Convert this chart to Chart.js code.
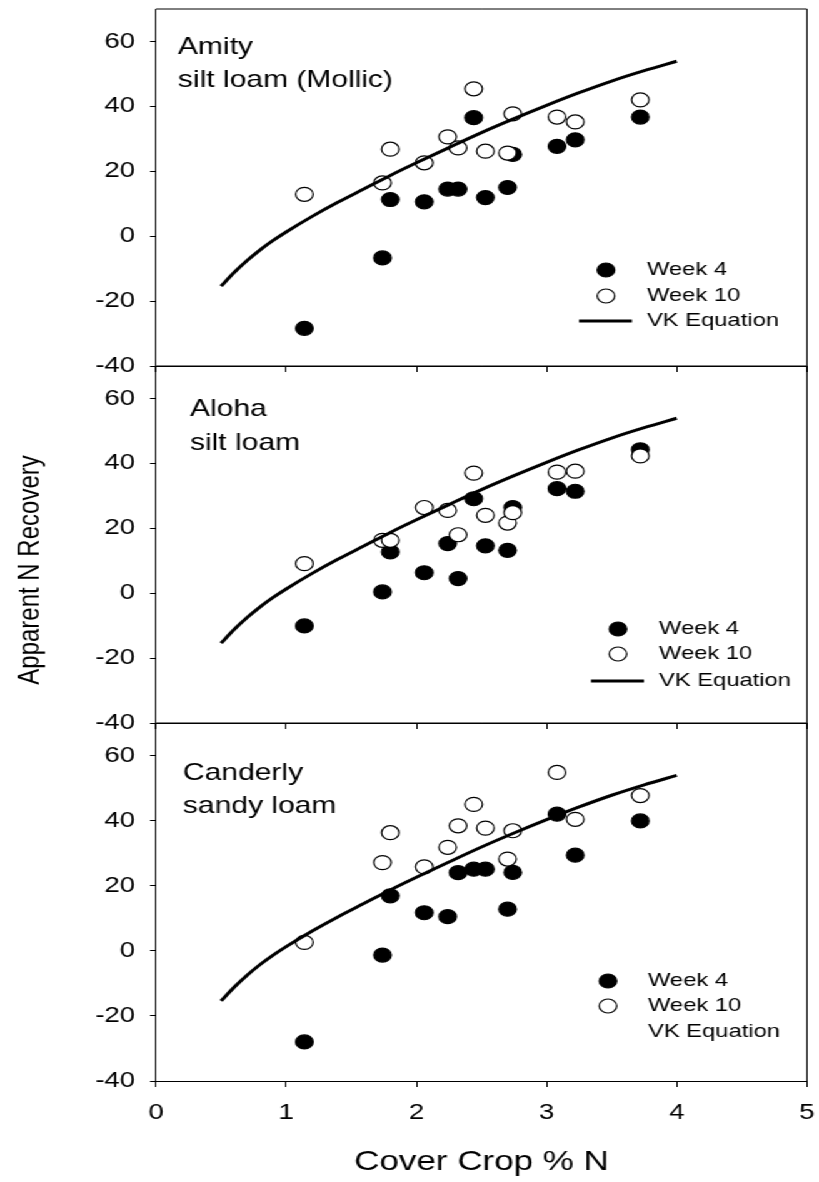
<!DOCTYPE html>
<html>
<head>
<meta charset="utf-8">
<script src="https://cdn.jsdelivr.net/npm/chart.js@4.4.1/dist/chart.umd.min.js"></script>
<style>
  html, body { margin: 0; padding: 0; background: #fff; width: 819px; height: 1182px; overflow: hidden; }
  #stage { position: absolute; left: 0; top: 0; width: 655px; height: 1182px; transform-origin: 0 0; }
  #stage canvas { position: absolute; left: 0; top: 0; }
</style>
</head>
<body>
<div id="stage">
  <canvas id="c1" width="655" height="1182"></canvas>
  <canvas id="c2" width="655" height="1182"></canvas>
  <canvas id="c3" width="655" height="1182"></canvas>
</div>
<script>
// ---------------- data ----------------
const cropN = [1.14, 1.74, 1.80, 2.06, 2.24, 2.32, 2.44, 2.53, 2.70, 2.74, 3.08, 3.22, 3.72];

const amityWeek4  = [-28.4, -6.7, 11.3, 10.6, 14.5, 14.5, 36.5, 11.9, 15.0, 25.2, 27.7, 29.7, 36.7];
const amityWeek10 = [ 12.9, 16.4, 26.8, 22.6, 30.6, 27.2, 45.4, 26.2, 25.6, 37.7, 36.7, 35.2, 42.0];

const alohaWeek4  = [-10.1,  0.4, 12.7,  6.3, 15.3,  4.5, 29.1, 14.6, 13.2, 26.4, 32.2, 31.4, 44.2];
const alohaWeek10 = [  9.1, 16.3, 16.3, 26.4, 25.5, 18.0, 37.0, 24.0, 21.6, 24.8, 37.3, 37.6, 42.3];

const canderlyWeek4  = [-28.0, -1.3, 16.9, 11.7, 10.5, 24.0, 25.1, 25.1, 12.8, 24.1, 42.0, 29.4, 39.9];
const canderlyWeek10 = [  2.6, 27.1, 36.3, 25.8, 31.8, 38.4, 45.0, 37.7, 28.2, 36.9, 54.8, 40.4, 47.7];

const vkN        = [0.5, 0.6, 0.7, 0.8, 0.9, 1.0, 1.2, 1.4, 1.6, 1.8, 2.0, 2.25, 2.5, 2.75, 3.0, 3.25, 3.5, 3.75, 4.0];
const vkRecovery = [-15.4, -11.2, -7.5, -4.2, -1.3, 1.3, 6.1, 10.5, 14.6, 18.7, 22.6, 27.3, 31.9, 36.2, 40.3, 44.2, 47.8, 51.0, 53.9];

const xTicks = [0, 1, 2, 3, 4, 5];
const yTicks = [-40, -20, 0, 20, 40, 60];

const seriesLabels = ["Week 4", "Week 10", "VK Equation"];
const panelNames = [["Amity", "silt loam (Mollic)"], ["Aloha", "silt loam"], ["Canderly", "sandy loam"]];
const xTitle = "Cover Crop % N";
const yTitle = "Apparent N Recovery";

// ---------------- layout (final image pixels) ----------------
const W = 819, H = 1182, CW = 655;
const S = W / CW;                 // horizontal stretch of the original figure
document.getElementById('stage').style.transform = `scaleX(${S})`;
const FONT = '"Liberation Sans", Arial, Helvetica, sans-serif';
const PLOT_L = 156, PLOT_R = 807;

const panels = [
  { top: 9,   bottom: 366,  w4: amityWeek4,    w10: amityWeek10,
    nameX: 178, nameY: [53.5, 86.5],
    lgMarkX: 606, lgTextX: 647, lgRows: [270, 296, 321], lgLine: [579, 632], yTitle: null },
  { top: 366, bottom: 723,  w4: alohaWeek4,    w10: alohaWeek10,
    nameX: 190, nameY: [415.7, 450],
    lgMarkX: 618, lgTextX: 659, lgRows: [629, 654, 681], lgLine: [591, 644],
    yTitle: { x: 30, y: 570 } },
  { top: 723, bottom: 1081, w4: canderlyWeek4, w10: canderlyWeek10,
    nameX: 183, nameY: [780, 813.3],
    lgMarkX: 608, lgTextX: 648, lgRows: [981, 1006, 1032], lgLine: null, yTitle: null }
];

const decor = {
  id: 'decor',
  afterDraw(chart, args, o) {
    const { ctx, chartArea: a } = chart;
    ctx.save();
    ctx.strokeStyle = '#000';
    ctx.lineWidth = 1;
    ctx.beginPath();
    ctx.moveTo(a.left, a.top); ctx.lineTo(a.right, a.top); ctx.lineTo(a.right, a.bottom);
    ctx.stroke();
    // panel name
    ctx.fillStyle = '#000';
    ctx.textAlign = 'left';
    ctx.textBaseline = 'alphabetic';
    ctx.font = `24px ${FONT}`;
    o.name.forEach((t, i) => ctx.fillText(t, o.nameX / S, o.nameY[i]));
    // legend
    ctx.font = `19px ${FONT}`;
    ctx.textBaseline = 'middle';
    const ds = chart.data.datasets;
    ds.forEach((d, i) => {
      const y = o.rows[i];
      if (d.showLine) {
        if (o.line) {
          ctx.strokeStyle = d.borderColor; ctx.lineWidth = d.borderWidth;
          ctx.beginPath(); ctx.moveTo(o.line[0] / S, y); ctx.lineTo(o.line[1] / S, y); ctx.stroke();
        }
      } else {
        ctx.beginPath();
        ctx.arc(o.markX / S, y, d.pointRadius, 0, Math.PI * 2);
        ctx.fillStyle = d.backgroundColor; ctx.fill();
        ctx.lineWidth = d.pointBorderWidth; ctx.strokeStyle = d.borderColor; ctx.stroke();
      }
      ctx.fillStyle = '#000';
      ctx.fillText(d.label, o.textX / S, y);
    });
    // shared y-axis title
    if (o.yTitle) {
      ctx.translate(o.yTitle.x / S, o.yTitle.y);
      ctx.rotate(-Math.PI / 2);
      ctx.textAlign = 'center';
      ctx.textBaseline = 'middle';
      ctx.font = `24px ${FONT}`;
      ctx.fillStyle = '#000';
      ctx.fillText(o.yTitle.text, 0, 0);
    }
    ctx.restore();
  }
};

panels.forEach((p, idx) => {
  const last = idx === panels.length - 1;
  const xAxisH = last ? (H - p.bottom) : 0;
  const pts = arr => cropN.map((x, i) => ({ x, y: arr[i] }));
  new Chart(document.getElementById('c' + (idx + 1)), {
    type: 'scatter',
    data: {
      datasets: [
        { label: seriesLabels[0], data: pts(p.w4), order: 2,
          pointRadius: 7, pointHoverRadius: 7, pointBorderWidth: 1.2,
          backgroundColor: '#000', borderColor: '#000' },
        { label: seriesLabels[1], data: pts(p.w10), order: 1,
          pointRadius: 7, pointHoverRadius: 7, pointBorderWidth: 1.2,
          backgroundColor: '#fff', borderColor: '#000' },
        { label: seriesLabels[2], data: vkN.map((x, i) => ({ x, y: vkRecovery[i] })), order: 0,
          showLine: true, pointRadius: 0, borderColor: '#000', borderWidth: 3,
          cubicInterpolationMode: 'monotone', backgroundColor: '#000' }
      ]
    },
    options: {
      responsive: false,
      animation: false,
      devicePixelRatio: 1,
      layout: {
        autoPadding: false,
        padding: { left: 0, right: (W - PLOT_R) / S, top: p.top, bottom: H - p.bottom - xAxisH }
      },
      plugins: {
        legend: { display: false },
        tooltip: { enabled: false },
        decor: { name: panelNames[idx], nameX: p.nameX, nameY: p.nameY,
                 markX: p.lgMarkX, textX: p.lgTextX, rows: p.lgRows, line: p.lgLine,
                 yTitle: p.yTitle ? { x: p.yTitle.x, y: p.yTitle.y, text: yTitle } : null }
      },
      scales: {
        x: {
          type: 'linear', min: 0, max: 5,
          afterBuildTicks: sc => { sc.ticks = xTicks.map(v => ({ value: v })); },
          afterFit: sc => { sc.height = xAxisH; sc.paddingLeft = 0; sc.paddingRight = 0; },
          grid: { display: true, drawOnChartArea: false, drawTicks: true, tickLength: 6, tickColor: '#000', tickWidth: 1 },
          border: { display: true, color: '#000', width: 1 },
          ticks: { display: last, color: '#000', font: { family: FONT, size: 22 }, padding: 13, maxRotation: 0, autoSkip: false },
          title: { display: last, text: xTitle, color: '#000', font: { family: FONT, size: 28 }, padding: { top: 0, bottom: 3 } }
        },
        y: {
          type: 'linear', min: -40, max: 70,
          afterBuildTicks: sc => { sc.ticks = yTicks.map(v => ({ value: v })); },
          afterFit: sc => { sc.width = PLOT_L / S; sc.paddingTop = 0; sc.paddingBottom = 0; },
          grid: { display: true, drawOnChartArea: false, drawTicks: true, tickLength: 6 / S, tickColor: '#000', tickWidth: 1 },
          border: { display: true, color: '#000', width: 1 },
          ticks: { color: '#000', font: { family: FONT, size: 22 }, padding: 12 },
          title: { display: false }
        }
      }
    },
    plugins: [decor]
  });
});
</script>
</body>
</html>
